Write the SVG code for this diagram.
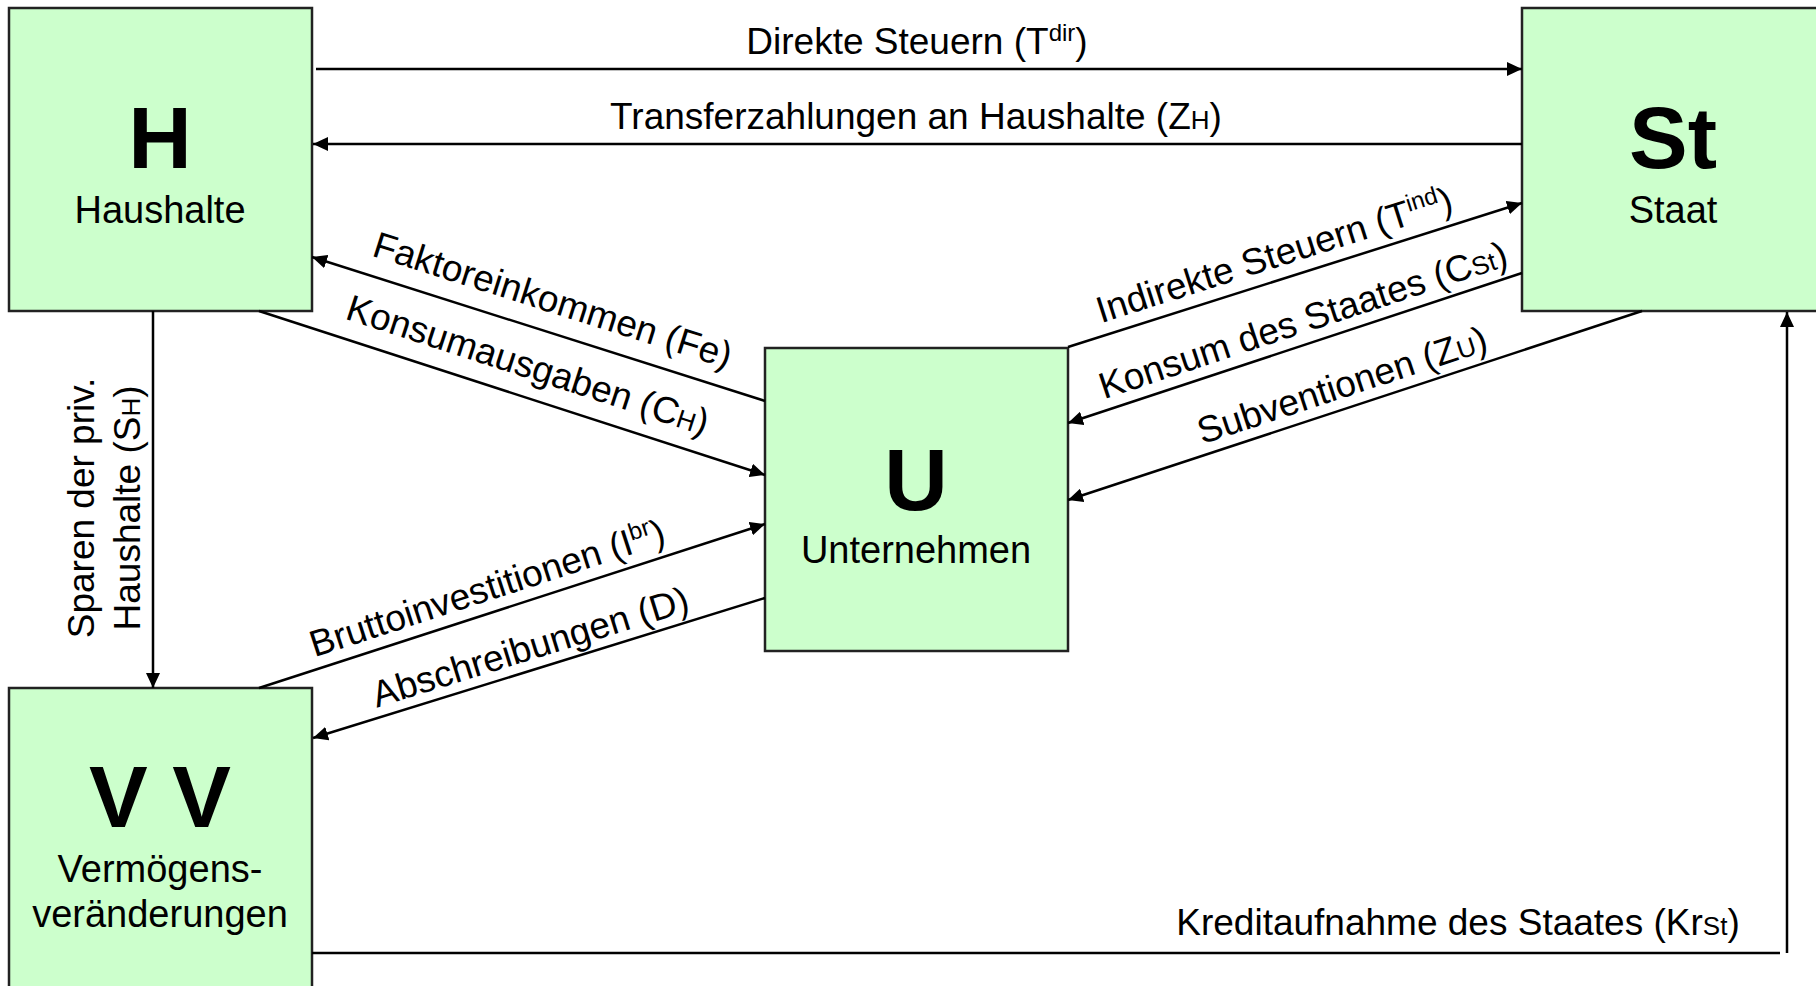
<svg xmlns="http://www.w3.org/2000/svg" width="1816" height="986" viewBox="0 0 1816 986">
<style>
.box{fill:#CCFFCC;stroke:#222;stroke-width:2.5}
.big{font-family:"Liberation Sans",Arial,sans-serif;font-weight:bold;font-size:88px;fill:#000;text-anchor:middle}
.nm{font-family:"Liberation Sans",Arial,sans-serif;font-size:38px;fill:#000;text-anchor:middle}
.lb{font-family:"Liberation Sans",Arial,sans-serif;font-size:37px;fill:#000;text-anchor:middle}
.ln{stroke:#000;stroke-width:2.5;fill:none}
.ar{marker-end:url(#ah)}
</style>
<defs>
<marker id="ah" markerUnits="userSpaceOnUse" markerWidth="16" markerHeight="14" refX="15" refY="7" orient="auto">
<path d="M0,0 L15,7 L0,14 z" fill="#000"/>
</marker>
</defs>
<rect width="1816" height="986" fill="#fff"/>
<g id="node-H">
<rect class="box" x="9" y="8" width="303" height="303"/>
<text class="big" x="160" y="168">H</text>
<text class="nm" x="160" y="223">Haushalte</text>
</g>
<g id="node-St">
<rect class="box" x="1522" y="8" width="303" height="303"/>
<text class="big" x="1673" y="168">St</text>
<text class="nm" x="1673" y="223">Staat</text>
</g>
<g id="node-U">
<rect class="box" x="765" y="348" width="303" height="303"/>
<text class="big" x="916" y="510">U</text>
<text class="nm" x="916" y="563">Unternehmen</text>
</g>
<g id="node-VV">
<rect class="box" x="9" y="688" width="303" height="320"/>
<text class="big" x="160" y="827">V V</text>
<text class="nm" x="160" y="882">Vermögens-</text>
<text class="nm" x="160" y="927">veränderungen</text>
</g>
<g id="connectors">
<line class="ln ar" x1="316" y1="69" x2="1522" y2="69"/>
<line class="ln ar" x1="1522" y1="144" x2="313" y2="144"/>
<line class="ln ar" x1="765" y1="401" x2="312" y2="257"/>
<line class="ln ar" x1="259" y1="311" x2="765" y2="475"/>
<line class="ln ar" x1="1068" y1="347" x2="1522" y2="203"/>
<line class="ln ar" x1="1522" y1="273" x2="1068" y2="423"/>
<line class="ln ar" x1="1642" y1="311" x2="1068" y2="500"/>
<line class="ln ar" x1="259" y1="688" x2="765" y2="524"/>
<line class="ln ar" x1="765" y1="598" x2="313" y2="738"/>
<line class="ln ar" x1="153" y1="311" x2="153" y2="688"/>
<line class="ln" x1="312" y1="953" x2="1780" y2="953"/>
<line class="ln ar" x1="1787" y1="953" x2="1787" y2="312"/>
</g>
<g id="labels">
<text class="lb" x="917" y="54">Direkte Steuern (T<tspan font-size="24" dy="-13">dir</tspan><tspan dy="13">)</tspan></text>
<text class="lb" x="916" y="129">Transferzahlungen an Haushalte (Z<tspan font-size="26">H</tspan>)</text>
<text class="lb" transform="translate(549,312) rotate(17.6)">Faktoreinkommen (Fe)</text>
<text class="lb" transform="translate(524,377) rotate(18)">Konsumausgaben (C<tspan font-size="26">H</tspan>)</text>
<text class="lb" transform="translate(1278,267) rotate(-17.6)">Indirekte Steuern (T<tspan font-size="24" dy="-13">ind</tspan><tspan dy="13">)</tspan></text>
<text class="lb" transform="translate(1307,332) rotate(-18.3)">Konsum des Staates (C<tspan font-size="26">St</tspan>)</text>
<text class="lb" transform="translate(1346,397) rotate(-18.2)">Subventionen (Z<tspan font-size="26">U</tspan>)</text>
<text class="lb" transform="translate(491,600) rotate(-18)">Bruttoinvestitionen (I<tspan font-size="24" dy="-13">br</tspan><tspan dy="13">)</tspan></text>
<text class="lb" transform="translate(534,659) rotate(-17.2)">Abschreibungen (D)</text>
<text class="lb" transform="translate(94,508) rotate(-90)">Sparen der priv.</text>
<text class="lb" transform="translate(140,508) rotate(-90)">Haushalte (S<tspan font-size="26">H</tspan>)</text>
<text class="lb" x="1458" y="935">Kreditaufnahme des Staates (Kr<tspan font-size="26">St</tspan>)</text>
</g>
</svg>
